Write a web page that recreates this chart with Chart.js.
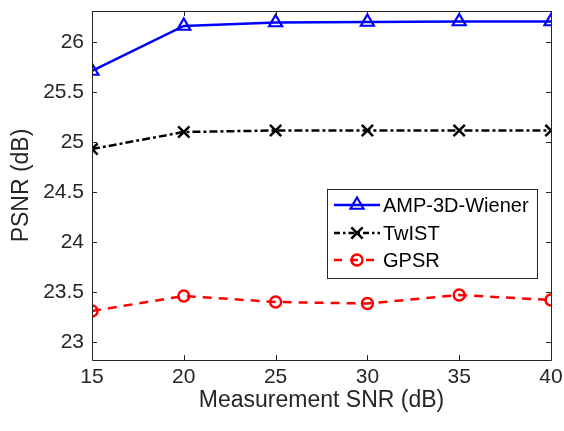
<!DOCTYPE html>
<html><head><meta charset="utf-8">
<script src="https://cdn.jsdelivr.net/npm/chart.js@4.4.0/dist/chart.umd.min.js"></script>
<style>html,body{margin:0;padding:0;background:#fff}#wrap{width:564px;height:431px}</style>
</head><body><div id="wrap"><canvas id="c" width="564" height="431"></canvas></div>
<script>
const snr = [15, 20, 25, 30, 35, 40];
const ampWiener = [25.71, 26.16, 26.195, 26.20, 26.205, 26.205];
const twist = [24.93, 25.10, 25.115, 25.115, 25.115, 25.115];
const gpsr = [23.31, 23.46, 23.40, 23.385, 23.47, 23.42];
const xTicks = [15, 20, 25, 30, 35, 40];
const yTicks = [23, 23.5, 24, 24.5, 25, 25.5, 26];
const yTickLabels = ['23', '23.5', '24', '24.5', '25', '25.5', '26'];

const FONT = '"Liberation Sans", Arial, Helvetica, sans-serif';
const AX = '#262626';

function pts(xs, ys){ return xs.map((x,i)=>({x:x,y:ys[i]})); }

const boxTicks = {
  id:'boxTicks',
  afterDatasetsDraw(chart){
    const {ctx, chartArea:a, scales} = chart;
    ctx.save();
    ctx.strokeStyle = AX; ctx.lineWidth = 1;
    ctx.beginPath();
    ctx.rect(Math.round(a.left)+0.5, Math.round(a.top)+0.5, Math.round(a.right-a.left), Math.round(a.bottom-a.top));
    ctx.stroke();
    const L = 5;
    ctx.beginPath();
    xTicks.forEach(v=>{
      const px = Math.round(scales.x.getPixelForValue(v))+0.5;
      ctx.moveTo(px, a.bottom); ctx.lineTo(px, a.bottom-L);
      ctx.moveTo(px, a.top); ctx.lineTo(px, a.top+L);
    });
    yTicks.forEach(v=>{
      const py = Math.round(scales.y.getPixelForValue(v))+0.5;
      ctx.moveTo(a.left, py); ctx.lineTo(a.left+L, py);
      ctx.moveTo(a.right, py); ctx.lineTo(a.right-L, py);
    });
    ctx.stroke();
    // legend
    const lx = 327, ly = 189, lw = 210, lh = 89;
    ctx.fillStyle = '#fff';
    ctx.fillRect(lx, ly, lw, lh);
    ctx.strokeStyle = AX; ctx.lineWidth = 1;
    ctx.strokeRect(lx+0.5, ly+0.5, lw, lh);
    const rows = [205, 233, 260];
    chart.data.datasets.forEach((ds,i)=>{
      const y = rows[i];
      ctx.save();
      ctx.strokeStyle = ds.borderColor; ctx.lineWidth = ds.borderWidth;
      ctx.setLineDash(ds.legendDash || []);
      ctx.beginPath(); ctx.moveTo(334, y); ctx.lineTo(380, y); ctx.stroke();
      ctx.setLineDash([]);
      ctx.fillStyle = 'rgba(0,0,0,0)';
      ctx.strokeStyle = ds.pointBorderColor;
      ctx.lineWidth = ds.pointBorderWidth;
      Chart.helpers.drawPoint(ctx, {pointStyle: ds.pointStyle, radius: ds.pointRadius, borderWidth: ds.pointBorderWidth, rotation:0}, 357, y);
      ctx.restore();
      ctx.fillStyle = '#000';
      ctx.font = '20px ' + FONT;
      ctx.textBaseline = 'middle';
      ctx.fillText(ds.label, 383, y+1);
    });
    ctx.restore();
  }
};

new Chart(document.getElementById('c'), {
  type: 'line',
  data: {
    datasets: [
      {label:'AMP-3D-Wiener', data: pts(snr, ampWiener), borderColor:'#0000ff', backgroundColor:'rgba(0,0,0,0)',
       borderWidth:2.5, pointStyle:'triangle', pointRadius:7.5, pointBorderWidth:2.2, pointBackgroundColor:'rgba(0,0,0,0)', pointBorderColor:'#0000ff', legendDash:[]},
      {label:'TwIST', data: pts(snr, twist), borderColor:'#000000', backgroundColor:'rgba(0,0,0,0)',
       borderWidth:2.5, borderDash:[8,3,3,3], pointStyle:'crossRot', pointRadius:8, pointBorderWidth:2.5, pointBorderColor:'#000', legendDash:[6,3,2.5,3]},
      {label:'GPSR', data: pts(snr, gpsr), borderColor:'#ff0000', backgroundColor:'rgba(0,0,0,0)',
       borderWidth:2.5, borderDash:[9,7], pointStyle:'circle', pointRadius:5.5, pointBorderWidth:2.4, pointBackgroundColor:'rgba(0,0,0,0)', pointBorderColor:'#ff0000', legendDash:[8,8]}
    ]
  },
  options: {
    responsive:false, animation:false, devicePixelRatio:1,
    layout:{padding:{left:8, top:11, right:13, bottom:17}},
    plugins:{legend:{display:false}, tooltip:{enabled:false}},
    elements:{line:{tension:0}},
    scales:{
      x:{type:'linear', min:15, max:40,
        afterBuildTicks(s){ s.ticks = xTicks.map(v=>({value:v})); },
        afterFit(s){ s.height = 54; s.paddingLeft = 0; s.paddingRight = 0; },
        grid:{display:false, drawTicks:false}, border:{display:false},
        ticks:{color:AX, font:{family:FONT, size:21}, padding:5, maxRotation:0, callback:(v)=>String(v)},
        title:{display:true, text:'Measurement SNR (dB)', color:AX, font:{family:FONT, size:23}, padding:{top:0,bottom:0}}
      },
      y:{type:'linear', min:22.82, max:26.31,
        afterBuildTicks(s){ s.ticks = yTicks.map(v=>({value:v})); },
        afterFit(s){ s.width = 84; s.paddingTop = 0; s.paddingBottom = 0; },
        grid:{display:false, drawTicks:false}, border:{display:false},
        ticks:{color:AX, font:{family:FONT, size:21}, padding:8, callback:(v)=>yTickLabels[yTicks.indexOf(v)] ?? ''},
        title:{display:true, text:'PSNR (dB)', color:AX, font:{family:FONT, size:23}, padding:{top:0,bottom:4}}
      }
    }
  },
  plugins:[boxTicks]
});
</script></body></html>
